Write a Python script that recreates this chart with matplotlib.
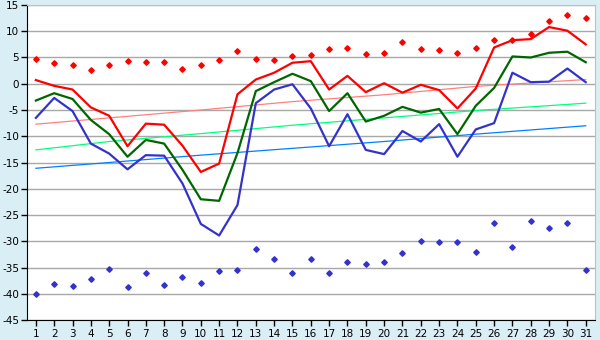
import numpy as np
import matplotlib
matplotlib.use("Agg")
import matplotlib.pyplot as plt

plt.rcParams['axes.unicode_minus'] = False

# Days of the month
days = np.arange(1, 32)

# Daily max / mean / min
t_max = [0.7, -0.4, -1.1, -4.5, -6.1, -11.9, -7.6, -7.8, -11.8, -16.8,
         -15.2, -2.0, 0.8, 2.1, 4.0, 4.3, -1.1, 1.5, -1.6, 0.1,
         -1.7, -0.2, -1.2, -4.7, -0.9, 6.9, 8.3, 8.5, 10.8, 10.1, 7.5]
t_mean = [-3.2, -1.8, -2.9, -6.9, -9.6, -13.9, -10.7, -11.4, -16.4, -22.0,
          -22.3, -13.2, -1.4, 0.3, 1.9, 0.5, -5.2, -1.8, -7.2, -6.1,
          -4.4, -5.5, -4.8, -9.6, -4.2, -0.8, 5.2, 5.0, 5.9, 6.1, 4.1]
t_min = [-6.5, -2.7, -5.2, -11.4, -13.3, -16.3, -13.6, -13.7, -19.0, -26.7,
         -28.9, -23.1, -3.7, -1.1, -0.1, -4.7, -11.9, -5.8, -12.6, -13.4,
         -9.0, -11.0, -7.7, -13.9, -8.7, -7.5, 2.1, 0.3, 0.4, 2.9, 0.3]

# Record high / low for each day
rec_max = [4.8, 3.9, 3.5, 2.7, 3.5, 4.3, 4.1, 4.1, 2.9, 3.5,
           4.5, 6.2, 4.8, 4.5, 5.2, 5.4, 6.7, 6.9, 5.6, 5.8,
           7.9, 6.6, 6.4, 5.8, 6.9, 8.3, 8.3, 9.4, 11.9, 13.0, 12.5]
rec_min = [-40.1, -38.2, -38.6, -37.1, -35.2, -38.8, -36.1, -38.4, -36.9, -38.0,
           -35.7, -35.4, -31.5, -33.4, -36.1, -33.4, -36.1, -34.0, -34.4, -34.0,
           -32.3, -30.0, -30.2, -30.2, -32.1, -26.6, -31.0, -26.2, -27.5, -26.6, -35.4]

# Climate normals (read at a few days)
norm_days = [1, 5, 10, 15, 20, 25, 31]
norm_max = [-7.7, -6.5, -5.0, -3.4, -2.1, -0.5, 0.8]
norm_mean = [-12.6, -11.0, -9.5, -7.9, -6.5, -5.1, -3.7]
norm_min = [-16.1, -15.0, -13.6, -12.3, -11.0, -9.6, -8.0]

fig = plt.figure(figsize=(6, 3.4), dpi=100, facecolor='#daeef5')
ax = fig.add_axes([0.0445, 0.0588, 0.947, 0.9265])
ax.set_facecolor('white')

ax.plot(norm_days, norm_max, color='#ff8080', lw=0.9, zorder=2)
ax.plot(norm_days, norm_mean, color='#00ff80', lw=0.9, zorder=2)
ax.plot(norm_days, norm_min, color='#0080ff', lw=0.9, zorder=2)

ax.plot(days, t_max, color='#ff0000', lw=1.6, zorder=3)
ax.plot(days, t_mean, color='#006600', lw=1.6, zorder=3)
ax.plot(days, t_min, color='#3333cc', lw=1.6, zorder=3)

ax.plot(days, rec_max, ls='none', marker='D', ms=2.8, color='#ff0000', zorder=4)
ax.plot(days, rec_min, ls='none', marker='D', ms=2.8, color='#3333cc', zorder=4)

ax.set_xlim(0.5, 31.5)
ax.set_ylim(-45, 15)
ax.set_xticks(days)
ax.set_yticks(np.arange(-45, 16, 5))
ax.yaxis.grid(True, color='#a8a8a8', lw=1)
ax.set_axisbelow(True)
ax.tick_params(labelsize=7.5, length=4.5, width=1, colors='black')
ax.tick_params(axis='y', pad=1)
ax.tick_params(axis='x', pad=2)

for s in ['top', 'right']:
    ax.spines[s].set_color('#c0c0c0')
for s in ['left', 'bottom']:
    ax.spines[s].set_color('black')

fig.savefig('out.png', dpi=100, facecolor=fig.get_facecolor())
